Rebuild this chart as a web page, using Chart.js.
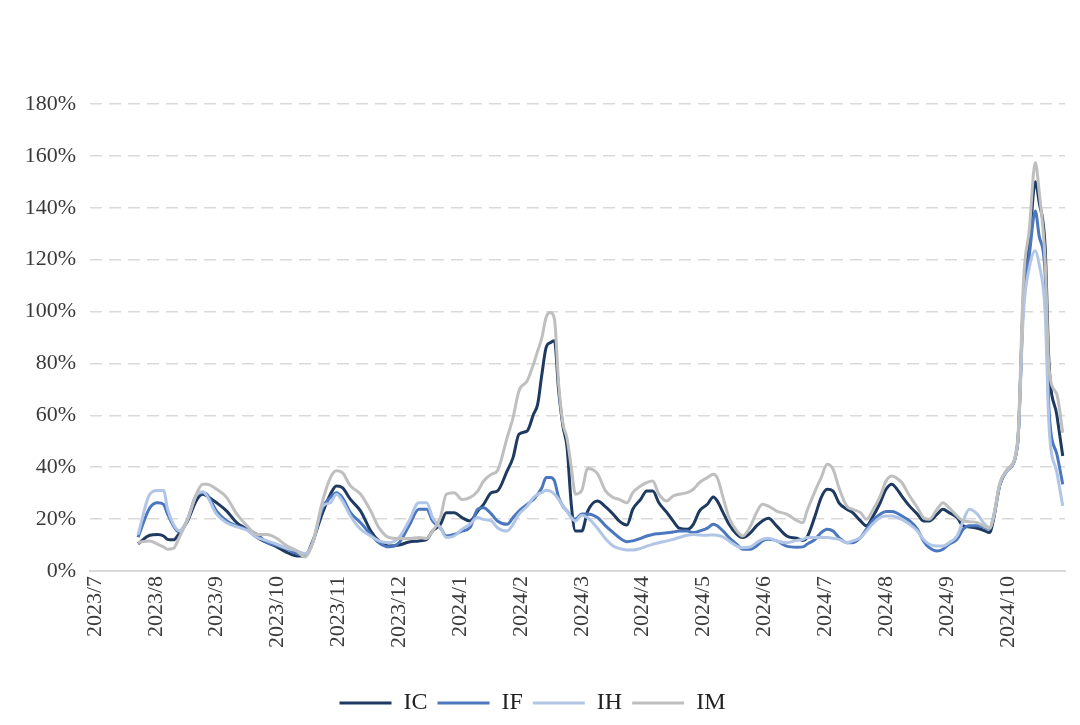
<!DOCTYPE html>
<html>
<head>
<meta charset="utf-8">
<script src="https://cdn.jsdelivr.net/npm/chart.js@4.4.1/dist/chart.umd.min.js"></script>
<style>
    html, body { margin: 0; padding: 0; background: #fff; }
    #wrap { width: 1080px; height: 725px; }
</style>
</head>
<body>
<div id="wrap"><canvas id="volChart" width="1080" height="725"></canvas></div>
<script>
// month tick labels, one per month start from 2023/7
const monthLabels = ['2023/7', '2023/8', '2023/9', '2023/10', '2023/11', '2023/12',
    '2024/1', '2024/2', '2024/3', '2024/4', '2024/5', '2024/6',
    '2024/7', '2024/8', '2024/9', '2024/10'];

const dates = [
    '2023-07-23', '2023-07-29', '2023-08-02', '2023-08-05', '2023-08-07', '2023-08-10', '2023-08-13', '2023-08-17',
    '2023-08-22', '2023-08-25', '2023-08-27', '2023-09-01', '2023-09-06', '2023-09-11', '2023-09-16', '2023-09-21',
    '2023-09-26', '2023-09-30', '2023-10-06', '2023-10-11', '2023-10-15', '2023-10-19', '2023-10-24', '2023-10-28',
    '2023-10-31', '2023-11-03', '2023-11-07', '2023-11-12', '2023-11-17', '2023-11-21', '2023-11-26', '2023-12-01',
    '2023-12-06', '2023-12-11', '2023-12-15', '2023-12-18', '2023-12-22', '2023-12-25', '2023-12-29', '2024-01-02',
    '2024-01-06', '2024-01-10', '2024-01-13', '2024-01-17', '2024-01-20', '2024-01-25', '2024-01-28', '2024-01-31',
    '2024-02-04', '2024-02-07', '2024-02-09', '2024-02-11', '2024-02-13', '2024-02-15', '2024-02-17', '2024-02-19',
    '2024-02-21', '2024-02-23', '2024-02-25', '2024-02-27', '2024-03-01', '2024-03-04', '2024-03-09', '2024-03-13',
    '2024-03-17', '2024-03-20', '2024-03-24', '2024-03-27', '2024-03-31', '2024-04-03', '2024-04-06', '2024-04-09',
    '2024-04-13', '2024-04-16', '2024-04-19', '2024-04-23', '2024-04-26', '2024-04-29', '2024-05-03', '2024-05-06',
    '2024-05-08', '2024-05-11', '2024-05-14', '2024-05-18', '2024-05-21', '2024-05-25', '2024-05-28', '2024-05-31',
    '2024-06-03', '2024-06-07', '2024-06-12', '2024-06-17', '2024-06-20', '2024-06-22', '2024-06-26', '2024-06-29',
    '2024-07-02', '2024-07-05', '2024-07-08', '2024-07-12', '2024-07-15', '2024-07-19', '2024-07-22', '2024-07-25',
    '2024-07-29', '2024-08-01', '2024-08-04', '2024-08-06', '2024-08-09', '2024-08-13', '2024-08-17', '2024-08-20',
    '2024-08-23', '2024-08-27', '2024-08-30', '2024-09-02', '2024-09-06', '2024-09-09', '2024-09-12', '2024-09-16',
    '2024-09-19', '2024-09-22', '2024-09-24', '2024-09-27', '2024-10-01', '2024-10-06', '2024-10-09', '2024-10-12',
    '2024-10-15', '2024-10-17', '2024-10-20', '2024-10-22', '2024-10-26', '2024-10-29'
];

const icValues = [
    10.5, 13.8, 14.1, 13.5, 12.2, 12, 14.5, 19, 27.6, 29.6, 28.9, 26.3, 23.1, 18.6, 16.1, 12.9,
    10.9, 9.6, 7.1, 5.8, 5.8, 11.6, 22.5, 29.6, 32.8, 32.1, 27.6, 23.1, 15.4, 11.6, 9.6, 10,
    11.2, 11.6, 12.2, 15.4, 18, 22.5, 22.5, 20.6, 19.3, 23.1, 25.7, 30.2, 30.8, 38.6, 43.7, 52.7,
    54, 60.4, 64.3, 75.8, 86.1, 88, 88.7, 69.4, 56, 47.6, 25.7, 15.4, 15.4, 23, 27, 24.8,
    21.9, 19.3, 17.7, 23.8, 27.6, 30.8, 30.8, 26.3, 22.5, 19.3, 16.5, 16.1, 18, 23.1, 25.7, 28.5,
    27, 22.5, 18, 14.1, 12.9, 14.8, 17.4, 19.3, 20.3, 17.4, 13.5, 12.6, 11.8, 12.9, 21.2, 28.3,
    31.5, 30.8, 26.3, 23.8, 22.5, 19.3, 17.4, 20.6, 26.3, 31.5, 33.4, 32.1, 28.9, 25, 21.9, 19.3,
    19.3, 21.9, 23.8, 22.5, 20.6, 17.4, 17, 16.5, 15.7, 14.8, 20, 33, 39, 49, 106, 126,
    150, 142, 125, 80, 60, 44.3
];

const ifValues = [
    13, 24.4, 26.3, 25.7, 22, 17.4, 15, 19.5, 29.6, 30.2, 29.6, 23.1, 19.3, 17.4, 16.1, 14.1,
    10.9, 10, 8.4, 6.7, 6, 11, 24.4, 28.3, 30.2, 28.3, 22.5, 18.6, 14.1, 10.9, 9.3, 11,
    17.4, 23.8, 23.8, 19.3, 16.7, 13.5, 14.1, 15.4, 16.7, 23.8, 24.4, 21.9, 19.3, 18, 20.6, 23.1,
    25.7, 27.6, 29.6, 32.1, 36, 36, 34.7, 28.3, 25, 23.1, 21, 20, 22, 22, 20.6, 17.5,
    14.8, 12.9, 11.3, 11.6, 12.6, 13.5, 14.1, 14.4, 14.7, 15, 15.4, 15.4, 14.8, 15.4, 16.5, 18,
    17.4, 15.4, 12.9, 10.3, 8.4, 8.4, 9.6, 11.6, 12.2, 11.6, 9.6, 9.2, 9.3, 10.3, 12.2, 14.8,
    16.1, 15.4, 12.9, 10.9, 10.9, 12.9, 16.1, 19.3, 21.9, 22.9, 22.9, 22.5, 21.2, 19.3, 16.1, 11.6,
    9, 7.7, 8.4, 10.3, 12.2, 16.1, 17.4, 17.4, 17, 16.1, 21, 33, 39, 49, 104, 122,
    138.8, 129, 115, 62, 45, 33.4
];

const ihValues = [
    14, 29.6, 31, 31, 24, 18, 15.5, 19.5, 29.6, 30.5, 29, 21.9, 18.6, 17, 15.7, 12.9,
    11.6, 10.5, 8.7, 7.7, 6.7, 11, 25, 26.3, 29.6, 27, 21.2, 16.1, 13.5, 11.6, 10.9, 13,
    19.3, 26.3, 26.3, 20.6, 16.7, 12.9, 13.5, 16.1, 18, 20.6, 19.9, 19.3, 16.7, 15.4, 18, 21.9,
    25, 28.3, 29.6, 30.2, 31.1, 30.8, 29.6, 27.6, 25, 23.1, 20.5, 19.3, 21.5, 20.5, 16.5, 12.5,
    9.6, 8.7, 8.1, 8.1, 8.7, 9.6, 10.3, 10.9, 11.6, 12.2, 12.9, 13.8, 14.1, 13.9, 13.8, 13.9,
    13.8, 13.1, 11.6, 9.6, 9, 9.3, 10.9, 12.2, 12.6, 11.6, 10.9, 11.8, 12.2, 12.9, 12.9, 12.9,
    12.9, 12.6, 12.2, 10.9, 11.6, 12.9, 15.4, 18, 20.6, 21.2, 21.2, 20.8, 19.9, 18, 15.4, 12.2,
    10.3, 9.6, 9.6, 10.9, 13.5, 19.3, 23.8, 21.9, 18.6, 16.7, 21, 33.5, 39, 49, 100, 117,
    123.4, 118, 100, 56, 38, 25.1
];

const imValues = [
    11, 11.6, 10.3, 9.3, 8.4, 8.7, 13, 19.5, 30.2, 33.4, 33.4, 31.5, 28.3, 21.9, 17.4, 14.1,
    14.1, 12.9, 9.6, 7.7, 5.4, 11, 27, 36, 38.6, 37.9, 32.8, 29.6, 23.1, 16.7, 12.9, 12.5,
    12.5, 12.9, 12.5, 15.4, 20.6, 29.6, 30.2, 27.6, 28.3, 30.8, 34.7, 37.3, 38.6, 51.4, 59.1, 69.4,
    73.3, 79.7, 84.8, 90, 97.7, 99.6, 97, 72, 57, 51, 40, 29.6, 31, 39.5, 37.5, 31,
    28.3, 27.6, 26.3, 30.2, 32.8, 34.1, 34.7, 29.6, 27, 28.9, 29.6, 30.2, 31.5, 34.1, 36, 37.3,
    36, 28.3, 20.6, 15.4, 13.5, 17.4, 22.5, 25.7, 25, 23.1, 21.9, 19.5, 18.6, 23.1, 30.8, 36,
    41.1, 39.2, 32.1, 25, 23.8, 22.5, 19.9, 23.1, 28.9, 34.7, 36.6, 36, 34.1, 28.9, 24.4, 20.6,
    19.9, 23.8, 26.3, 24.4, 21.2, 19.3, 19, 18.6, 17.4, 16.5, 21, 33.5, 39.5, 50, 112, 132,
    157.5, 146, 120, 78, 68, 53.3
];

// position of a date on the month axis (0 = 2023/7/1, 1 = 2023/8/1 ...)
function monthPos(str) {
    const [y, m, d] = str.split('-').map(Number);
    const idx = (y - 2023) * 12 + (m - 7);
    const days = new Date(y, m, 0).getDate();
    return idx + (d - 1) / days;
}

function toPoints(values) {
    return dates.map((d, i) => ({ x: monthPos(d), y: values[i] }));
}

function makeDataset(label, values, color, order) {
    return {
        label: label,
        data: toPoints(values),
        borderColor: color,
        backgroundColor: color,
        borderWidth: 3,
        pointRadius: 0,
        cubicInterpolationMode: 'monotone',
        fill: false,
        order: order
    };
}

Chart.defaults.font.family = '"Liberation Serif", "Times New Roman", serif';
Chart.defaults.color = '#3a3a3a';

const ctx = document.getElementById('volChart').getContext('2d');
const volChart = new Chart(ctx, {
    type: 'line',
    data: {
        datasets: [
            makeDataset('IC', icValues, '#1f3a60', 3),
            makeDataset('IF', ifValues, '#4a77bd', 2),
            makeDataset('IH', ihValues, '#b1c6e6', 1),
            makeDataset('IM', imValues, '#bfbfbf', 0)
        ]
    },
    options: {
        responsive: false,
        animation: false,
        layout: {
            padding: { top: 104, right: 15, bottom: 0, left: 0 }
        },
        plugins: {
            tooltip: { enabled: false },
            legend: {
                position: 'bottom',
                labels: {
                    font: { size: 24 },
                    color: '#222',
                    boxWidth: 52,
                    boxHeight: 3,
                    padding: 10,
                    sort: (a, b) => a.datasetIndex - b.datasetIndex,
                    generateLabels: (chart) => {
                        const items = Chart.defaults.plugins.legend.labels.generateLabels(chart);
                        items.forEach(item => {
                            item.lineWidth = 0;
                            item.fillStyle = item.strokeStyle;
                        });
                        return items;
                    }
                }
            }
        },
        scales: {
            x: {
                type: 'linear',
                min: -0.08,
                max: 15.94,
                grid: { display: false, drawTicks: false },
                border: { display: true, color: '#d9d9d9', width: 2 },
                afterBuildTicks: (scale) => {
                    scale.ticks = monthLabels.map((_, i) => ({ value: i }));
                },
                afterFit: (scale) => {
                    scale.height = 110;
                },
                ticks: {
                    autoSkip: false,
                    minRotation: 90,
                    maxRotation: 90,
                    padding: 5,
                    font: { size: 22 },
                    color: '#3a3a3a',
                    callback: (value) => monthLabels[value] ?? ''
                }
            },
            y: {
                min: 0,
                max: 180,
                grid: { color: '#d9d9d9', lineWidth: 1.5, drawTicks: false },
                border: { display: false, dash: [12, 7] },
                afterFit: (scale) => {
                    scale.width = 90;
                },
                ticks: {
                    stepSize: 20,
                    padding: 14,
                    font: { size: 22 },
                    color: '#3a3a3a',
                    callback: (value) => value + '%'
                }
            }
        }
    }
});
</script>
</body>
</html>
